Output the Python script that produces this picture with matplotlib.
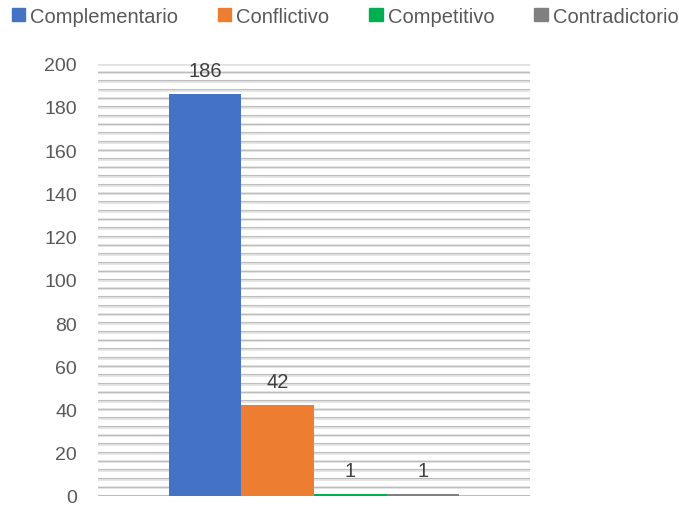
import matplotlib
matplotlib.use("Agg")
import matplotlib.pyplot as plt
from matplotlib.patches import Patch

# Data
categories = ["Complementario", "Conflictivo", "Competitivo", "Contradictorio"]
values = [186, 42, 1, 1]
colors = ["#4472c4", "#ed7d31", "#00b050", "#808080"]
y_ticks = [0, 20, 40, 60, 80, 100, 120, 140, 160, 180, 200]

plt.rcParams["font.family"] = ["Liberation Sans", "DejaVu Sans"]

fig = plt.figure(figsize=(6.79, 5.06), dpi=100)
ax = fig.add_axes([0.144, 0.018, 0.637, 0.854])

# striped gridlines every 4 units
for y in range(0, 201, 4):
    ax.axhline(y, color="#e4e4e4", lw=2.0, zorder=0)
    ax.axhline(y + 0.3, color="#bdbdbd", lw=0.8, zorder=0)

bar_w = 0.168
for i, (cat, val, col) in enumerate(zip(categories, values, colors)):
    x = (i - 1.5) * bar_w
    ax.bar(x, val, width=bar_w, color=col, zorder=2)
    ax.text(x, val + 6.5, str(val), ha="center", va="bottom",
            fontsize=14.5, color="#404040")

ax.set_xlim(-0.5, 0.5)
ax.set_ylim(0, 200)
ax.set_yticks(y_ticks)
ax.tick_params(axis="y", length=0, labelsize=14, labelcolor="#595959", pad=15)
ax.set_xticks([])
for s in ax.spines.values():
    s.set_visible(False)

handles = [Patch(color=c, label=l) for c, l in zip(colors, categories)]
fig.legend(handles=handles, loc="center", bbox_to_anchor=(0.508, 0.966), ncol=4,
           frameon=False, fontsize=14.5, labelcolor="#595959",
           handlelength=0.65, handleheight=0.65, handletextpad=0.25,
           columnspacing=2.0)

fig.savefig("out.png", dpi=100)
